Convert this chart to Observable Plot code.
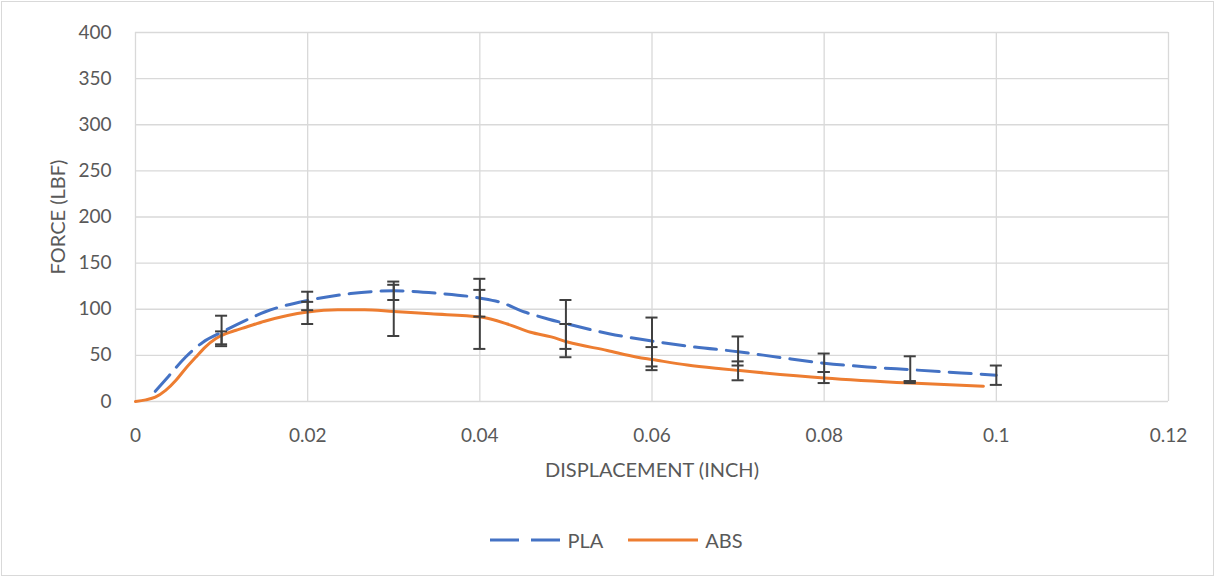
<!DOCTYPE html>
<html>
<head>
<meta charset="utf-8">
<script src="https://cdn.jsdelivr.net/npm/d3@7"></script>
<script src="https://cdn.jsdelivr.net/npm/@observablehq/plot@0.6"></script>
<style>
  html, body { margin: 0; padding: 0; background: #fff; }
  #chart { position: absolute; left: 1px; top: 1px; width: 1211px; height: 573px; border: 1px solid #d9d9d9; background: #fff; font-family: Lato, "Open Sans", sans-serif; }
  #legend { position: absolute; left: 9px; top: 525px; width: 1211px; height: 26px; display: flex; justify-content: center; gap: 25px; font-size: 20px; color: #595959; align-items: center; }
  #legend .item { display: flex; align-items: center; gap: 7px; }
</style>
</head>
<body>
<div id="chart"></div>
<script>
// Series data (displacement in inch, force in lbf)
const plaX = [0.0023, 0.0039, 0.0058, 0.0078, 0.0101, 0.0128, 0.015, 0.020, 0.025, 0.030, 0.0355, 0.0401, 0.0424, 0.0452, 0.0479, 0.0502, 0.055, 0.060, 0.065, 0.070, 0.075, 0.080, 0.085, 0.090, 0.095, 0.100];
const plaY = [11, 28, 48, 64, 75.5, 88, 97, 109.5, 117, 120, 117, 112, 107.5, 97, 89.5, 84, 73.5, 65.5, 59, 54, 47.5, 41.5, 37.5, 34.5, 31.5, 28.5];

const absX = [0, 0.0012, 0.0023, 0.0035, 0.0047, 0.0058, 0.0070, 0.0081, 0.0093, 0.0105, 0.0116, 0.0128, 0.015, 0.020, 0.0235, 0.0266, 0.030, 0.0343, 0.0401, 0.0432, 0.0459, 0.0483, 0.0502, 0.0548, 0.0583, 0.060, 0.0641, 0.0680, 0.0702, 0.080, 0.090, 0.0985];
const absY = [0, 1.8, 4.7, 12, 23, 35.5, 48, 59, 68, 73.5, 77, 80.5, 87, 97, 99.5, 99.5, 97.5, 95, 91.5, 84, 75, 70, 64.5, 55.3, 48, 45.5, 39.5, 35.5, 33.5, 25.5, 20, 16.5];

// Error bars
const errX    = [0.01, 0.02, 0.03, 0.04, 0.05, 0.06, 0.07, 0.08, 0.09, 0.10];
const plaLow  = [62, 99, 110, 92, 57, 38, 39, 32, 22, 18];
const plaHigh = [93, 119, 130, 133, 110, 91, 70.5, 52, 49, 39];
const absErrX = [0.01, 0.02, 0.03, 0.04, 0.05, 0.06, 0.07, 0.08, 0.09];
const absLow  = [60, 84, 71, 57, 48, 34, 23, 20, 20];
const absHigh = [76, 108, 126.5, 121, 84, 59, 43.5, 32, 22];

const xTicks = [0, 0.02, 0.04, 0.06, 0.08, 0.1, 0.12];
const yTicks = [0, 50, 100, 150, 200, 250, 300, 350, 400];

const seriesNames = ["PLA", "ABS"];
const colors = {PLA: "#4472C4", ABS: "#ED7D31"};
const xTitle = "DISPLACEMENT (INCH)";
const yTitle = "FORCE (LBF)";

const pla = plaX.map((x, i) => ({x, y: plaY[i]}));
const abs = absX.map((x, i) => ({x, y: absY[i]}));
const errs = [
  ...errX.map((x, i) => ({x, lo: plaLow[i], hi: plaHigh[i]})),
  ...absErrX.map((x, i) => ({x, lo: absLow[i], hi: absHigh[i]}))
];
const capHalf = 0.0007;
const caps = errs.flatMap(d => [{x: d.x, y: d.lo}, {x: d.x, y: d.hi}]);

const grid = "#d9d9d9";
const textColor = "#595959";

const chart = Plot.plot({
  width: 1211,
  height: 490,
  marginLeft: 133,
  marginRight: 45,
  marginTop: 30,
  marginBottom: 91,
  style: {fontFamily: "Lato, 'Open Sans', sans-serif", fontSize: "19px", color: textColor, background: "#fff"},
  x: {domain: [0, 0.12]},
  y: {domain: [0, 400]},
  marks: [
    Plot.gridX(xTicks, {stroke: grid, strokeOpacity: 1, strokeWidth: 1.3}),
    Plot.gridY(yTicks, {stroke: grid, strokeOpacity: 1, strokeWidth: 1.3}),
    Plot.axisX(xTicks, {tickSize: 0, tickPadding: 27, tickFormat: d => String(d), label: null, fill: textColor}),
    Plot.axisY(yTicks, {tickSize: 0, tickPadding: 24, label: null, fill: textColor}),
    Plot.text([xTitle], {frameAnchor: "bottom", dy: 69, lineAnchor: "middle", fontSize: 20, fill: textColor, text: d => d}),
    Plot.text([yTitle], {frameAnchor: "left", dx: -77, rotate: -90, textAnchor: "middle", lineAnchor: "middle", fontSize: 20, fill: textColor, text: d => d}),
    Plot.line(abs, {x: "x", y: "y", stroke: colors.ABS, strokeWidth: 3, curve: "monotone-x"}),
    Plot.line(pla, {x: "x", y: "y", stroke: colors.PLA, strokeWidth: 3, strokeDasharray: "22,10", curve: "monotone-x"}),
    Plot.ruleX(errs, {x: "x", y1: "lo", y2: "hi", stroke: "#404040", strokeWidth: 2}),
    Plot.ruleY(caps, {y: "y", x1: d => d.x - capHalf, x2: d => d.x + capHalf, stroke: "#404040", strokeWidth: 2})
  ]
});
const container = document.getElementById("chart");
container.appendChild(chart);

const legend = document.createElement("div");
legend.id = "legend";
for (const name of seriesNames) {
  const item = document.createElement("div");
  item.className = "item";
  const svg = d3.create("svg").attr("width", 70).attr("height", 8);
  svg.append("line").attr("x1", 0).attr("x2", 70).attr("y1", 4).attr("y2", 4)
    .attr("stroke", colors[name]).attr("stroke-width", 3)
    .attr("stroke-dasharray", name === "PLA" ? "29,12" : null);
  item.appendChild(svg.node());
  const t = document.createElement("span");
  t.textContent = name;
  item.appendChild(t);
  legend.appendChild(item);
}
container.appendChild(legend);
</script>
</body>
</html>
